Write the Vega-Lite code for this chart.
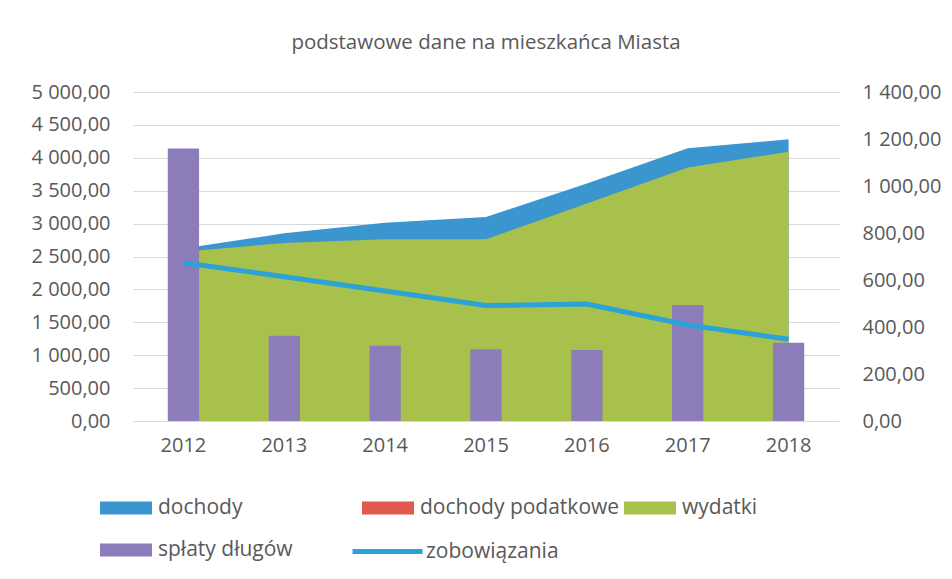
{
  "$schema": "https://vega.github.io/schema/vega-lite/v6.json",
  "autosize": {"type": "none"},
  "width": 706,
  "height": 329,
  "padding": {"left": 133, "top": 92, "right": 113, "bottom": 158},
  "background": "white",
  "config": {
    "font": "Open Sans",
    "view": {"stroke": null},
    "axis": {"labelColor": "#595959", "labelFontSize": 20, "ticks": false, "titleColor": "#595959"}
  },
  "title": {
    "text": "podstawowe dane na mieszkańca Miasta",
    "fontSize": 20.5,
    "fontWeight": "normal",
    "color": "#595959",
    "offset": 29,
    "anchor": "middle"
  },
  "data": {
    "values": [
      {"rok": "2012", "seria": "dochody", "wartosc": 2620},
      {"rok": "2013", "seria": "dochody", "wartosc": 2852},
      {"rok": "2014", "seria": "dochody", "wartosc": 3014},
      {"rok": "2015", "seria": "dochody", "wartosc": 3100},
      {"rok": "2016", "seria": "dochody", "wartosc": 3610},
      {"rok": "2017", "seria": "dochody", "wartosc": 4144},
      {"rok": "2018", "seria": "dochody", "wartosc": 4281},
      {"rok": "2012", "seria": "wydatki", "wartosc": 2573},
      {"rok": "2013", "seria": "wydatki", "wartosc": 2705},
      {"rok": "2014", "seria": "wydatki", "wartosc": 2761},
      {"rok": "2015", "seria": "wydatki", "wartosc": 2761},
      {"rok": "2016", "seria": "wydatki", "wartosc": 3305},
      {"rok": "2017", "seria": "wydatki", "wartosc": 3852},
      {"rok": "2018", "seria": "wydatki", "wartosc": 4092},
      {"rok": "2012", "seria": "spłaty długów", "wartosc": 1160},
      {"rok": "2013", "seria": "spłaty długów", "wartosc": 363},
      {"rok": "2014", "seria": "spłaty długów", "wartosc": 320},
      {"rok": "2015", "seria": "spłaty długów", "wartosc": 305},
      {"rok": "2016", "seria": "spłaty długów", "wartosc": 302},
      {"rok": "2017", "seria": "spłaty długów", "wartosc": 494},
      {"rok": "2018", "seria": "spłaty długów", "wartosc": 333},
      {"rok": "2012", "seria": "zobowiązania", "wartosc": 2405},
      {"rok": "2013", "seria": "zobowiązania", "wartosc": 2193},
      {"rok": "2014", "seria": "zobowiązania", "wartosc": 1975},
      {"rok": "2015", "seria": "zobowiązania", "wartosc": 1755},
      {"rok": "2016", "seria": "zobowiązania", "wartosc": 1778},
      {"rok": "2017", "seria": "zobowiązania", "wartosc": 1459},
      {"rok": "2018", "seria": "zobowiązania", "wartosc": 1242}
    ]
  },
  "layer": [
    {
      "transform": [{"filter": "datum.seria === 'dochody'"}],
      "mark": {"type": "area"},
      "encoding": {
        "x": {"field": "rok", "type": "ordinal", "bandPosition": 0.5,
              "scale": {"type": "band", "paddingInner": 0, "paddingOuter": 0},
              "axis": {"title": null, "labelAngle": 0, "labelPadding": 14, "domainColor": "#d9d9d9", "grid": false}},
        "y": {"field": "wartosc", "type": "quantitative", "stack": null,
              "scale": {"domain": [0, 5000]},
              "axis": {"orient": "left", "title": null, "values": [0,500,1000,1500,2000,2500,3000,3500,4000,4500,5000],
                       "labelExpr": "replace(replace(format(datum.value, ',.2f'), ',', ' '), '.', ',')",
                       "grid": true, "gridColor": "#d9d9d9", "domain": false, "labelPadding": 23}},
        "fill": {"field": "seria", "type": "nominal",
                 "scale": {"domain": ["dochody", "dochody podatkowe", "wydatki", "spłaty długów"],
                           "range": ["#3b95cf", "#e05a4f", "#a8c04c", "#8d7cba"]},
                 "legend": {"title": null, "orient": "none", "direction": "horizontal", "legendX": -33, "legendY": 390,
                            "columns": 3, "gridAlign": "all", "columnPadding": 4, "rowPadding": 6,
                            "symbolType": "M-1,-0.25H1V0.25H-1Z", "symbolSize": 2704, "symbolStrokeWidth": 0,
                            "labelFontSize": 21, "labelColor": "#595959", "labelOffset": 6, "labelLimit": 400}}
      }
    },
    {
      "transform": [{"filter": "datum.seria === 'wydatki'"}],
      "mark": {"type": "area"},
      "encoding": {
        "x": {"field": "rok", "type": "ordinal", "bandPosition": 0.5,
              "scale": {"type": "band", "paddingInner": 0, "paddingOuter": 0},
              "axis": {"title": null, "labelAngle": 0, "labelPadding": 14, "domainColor": "#d9d9d9", "grid": false}},
        "y": {"field": "wartosc", "type": "quantitative", "stack": null,
              "scale": {"domain": [0, 5000]}, "axis": null},
        "fill": {"field": "seria", "type": "nominal",
                 "scale": {"domain": ["dochody", "dochody podatkowe", "wydatki", "spłaty długów"],
                           "range": ["#3b95cf", "#e05a4f", "#a8c04c", "#8d7cba"]}}
      }
    },
    {
      "transform": [{"filter": "datum.seria === 'spłaty długów'"}],
      "mark": {"type": "bar", "width": {"band": 0.31}},
      "encoding": {
        "x": {"field": "rok", "type": "ordinal",
              "scale": {"type": "band", "paddingInner": 0, "paddingOuter": 0},
              "axis": {"title": null, "labelAngle": 0, "labelPadding": 14, "domainColor": "#d9d9d9", "grid": false}},
        "y": {"field": "wartosc", "type": "quantitative", "stack": null,
              "scale": {"domain": [0, 1400]},
              "axis": {"orient": "right", "title": null, "values": [0,200,400,600,800,1000,1200,1400],
                       "labelExpr": "replace(replace(format(datum.value, ',.2f'), ',', ' '), '.', ',')",
                       "grid": false, "domain": false, "labelPadding": 23}},
        "fill": {"field": "seria", "type": "nominal",
                 "scale": {"domain": ["dochody", "dochody podatkowe", "wydatki", "spłaty długów"],
                           "range": ["#3b95cf", "#e05a4f", "#a8c04c", "#8d7cba"]}}
      }
    },
    {
      "transform": [{"filter": "datum.seria === 'zobowiązania'"}],
      "mark": {"type": "line", "strokeWidth": 5},
      "encoding": {
        "x": {"field": "rok", "type": "ordinal", "bandPosition": 0.5,
              "scale": {"type": "band", "paddingInner": 0, "paddingOuter": 0},
              "axis": {"title": null, "labelAngle": 0, "labelPadding": 14, "domainColor": "#d9d9d9", "grid": false}},
        "y": {"field": "wartosc", "type": "quantitative", "stack": null,
              "scale": {"domain": [0, 5000]}, "axis": null},
        "stroke": {"field": "seria", "type": "nominal",
                   "scale": {"domain": ["zobowiązania"], "range": ["#2ba3d6"]},
                   "legend": {"title": null, "orient": "none", "legendX": 217, "legendY": 422,
                              "symbolType": "stroke", "symbolSize": 4900, "symbolStrokeWidth": 5,
                              "labelFontSize": 21, "labelColor": "#595959", "labelOffset": 1, "labelLimit": 400}}
      }
    }
  ],
  "resolve": {"scale": {"y": "independent"}}
}
